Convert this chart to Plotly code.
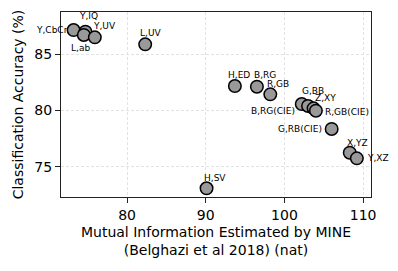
import plotly.graph_objects as go

labels = ["Y,CbCr", "Y,IQ", "L,ab", "Y,UV", "L,UV", "H,ED", "B,RG", "R,GB",
          "B,RG(CIE)", "G,BB", "Z,XY", "R,GB(CIE)", "G,RB(CIE)", "X,YZ", "Y,XZ", "H,SV"]
mi = [73.2, 74.7, 74.5, 75.9, 82.3, 93.7, 96.5, 98.2,
      102.2, 103.0, 103.7, 104.0, 106.0, 108.3, 109.2, 90.1]
acc = [87.13, 86.98, 86.69, 86.48, 85.86, 82.16, 82.10, 81.42,
       80.56, 80.39, 80.18, 79.97, 78.35, 76.24, 75.74, 73.08]

x_ticks = [80, 90, 100, 110]
y_ticks = [75, 80, 85]

# label offsets (px) and anchors
offsets = {
    "Y,CbCr": (-4, 0, "right"),
    "Y,IQ": (3, 16, "center"),
    "L,ab": (-3, -13, "center"),
    "Y,UV": (-4, 11.5, "left"),
    "L,UV": (5, 11, "center"),
    "H,ED": (4, 11, "center"),
    "B,RG": (8, 11.5, "center"),
    "R,GB": (8, 10, "center"),
    "B,RG(CIE)": (-5, -6.5, "right"),
    "G,BB": (5, 15, "center"),
    "Z,XY": (12, 10.5, "center"),
    "R,GB(CIE)": (7, -1, "left"),
    "G,RB(CIE)": (-8, 0, "right"),
    "X,YZ": (7.5, 10, "center"),
    "Y,XZ": (8, 0, "left"),
    "H,SV": (8, 10, "center"),
}

fig = go.Figure()
fig.add_trace(go.Scatter(
    x=mi, y=acc, mode="markers",
    marker=dict(size=12.5, color="#999999", line=dict(color="black", width=1.5)),
    cliponaxis=False, showlegend=False, hoverinfo="skip",
))

anns = []
for lab, xv, yv in zip(labels, mi, acc):
    dx, dy, xa = offsets[lab]
    anns.append(dict(x=xv, y=yv, xref="x", yref="y", text=lab, showarrow=False,
                     xanchor=xa, yanchor="middle", xshift=dx, yshift=dy,
                     font=dict(size=9, color="black", family="DejaVu Sans")))

axis_common = dict(showline=True, linecolor="#222", linewidth=1.2, mirror=True,
                   ticks="outside", ticklen=5, tickcolor="#222", tickwidth=1.2,
                   showgrid=True, gridcolor="#e2e2e2", griddash="3px,2px", gridwidth=1,
                   zeroline=False, tickfont=dict(size=14, color="black"))

fig.update_layout(
    width=398, height=271,
    margin=dict(l=61, r=27, t=12, b=74),
    plot_bgcolor="white", paper_bgcolor="white",
    font=dict(family="DejaVu Sans", color="black"),
    annotations=anns,
    xaxis=dict(range=[71.6, 111.0], tickvals=x_ticks,
               title=dict(text="Mutual Information Estimated by MINE<br>(Belghazi et al 2018) (nat)",
                          font=dict(size=14), standoff=5),
               **axis_common),
    yaxis=dict(range=[72.31, 88.73], tickvals=y_ticks,
               title=dict(text="Classification Accuracy (%)", font=dict(size=14), standoff=7),
               **axis_common),
)

fig.write_html("out.html", config={"displayModeBar": False},
               post_script="document.body.style.margin='0';document.body.style.padding='0';")
